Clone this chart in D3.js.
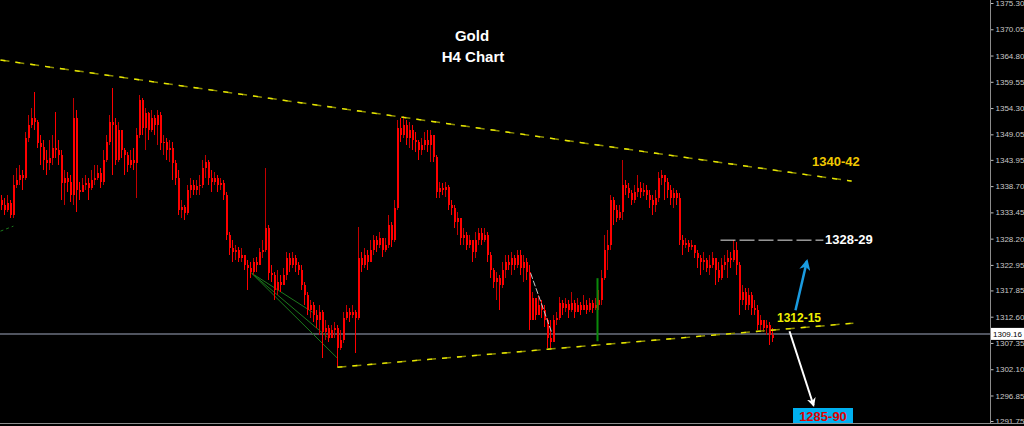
<!DOCTYPE html>
<html><head><meta charset="utf-8">
<script src="https://cdn.jsdelivr.net/npm/d3@7"></script>
<style>html,body{margin:0;padding:0;background:#000;overflow:hidden}</style>
</head><body><svg id="c" width="1024" height="426"></svg>
<script>
// ---- data (Gold, H4 candles) ----
const firstOpen = 1335.9;
const close = [
1334.9,1333.9,1335.3,1332.9,1338.9,1339.9,1340.9,1340.3,1348.3,1350.9,
1352.3,1351.5,1347.3,1346.5,1343.9,1343.3,1344.3,1346.3,1345.9,1344.9,
1339.3,1340.3,1339.5,1336.9,1352.3,1337.9,1337.5,1338.9,1339.3,1338.3,
1339.9,1340.3,1341.3,1339.5,1343.9,1347.5,1351.5,1350.9,1343.9,1349.9,
1345.9,1344.9,1342.9,1343.9,1343.3,1348.9,1355.9,1350.3,1353.3,1349.9,
1352.3,1350.9,1352.9,1347.3,1347.5,1345.9,1346.3,1343.3,1340.3,1333.9,
1334.5,1333.3,1337.9,1338.9,1337.9,1338.7,1338.9,1342.3,1343.5,1340.3,
1339.5,1340.3,1338.9,1339.3,1336.9,1328.9,1326.3,1325.5,1325.9,1324.3,
1324.9,1322.9,1322.3,1321.5,1323.5,1322.9,1325.5,1325.9,1330.3,1321.3,
1320.9,1317.9,1319.5,1318.9,1320.9,1324.3,1322.9,1324.3,1322.9,1321.9,
1318.9,1316.9,1313.9,1314.9,1312.9,1311.9,1313.5,1309.5,1310.3,1308.3,
1309.9,1310.3,1306.3,1307.9,1312.3,1313.5,1312.9,1313.5,1312.3,1324.3,
1322.9,1324.9,1323.5,1325.9,1327.9,1326.9,1328.3,1325.9,1326.9,1330.9,
1327.9,1334.3,1350.3,1348.9,1350.9,1348.3,1349.9,1347.9,1347.5,1345.9,
1346.9,1347.9,1346.9,1348.9,1344.5,1337.5,1338.3,1337.9,1338.5,1334.9,
1334.3,1331.5,1332.3,1328.3,1328.9,1326.9,1327.9,1325.5,1327.9,1329.3,
1327.9,1328.9,1324.9,1321.9,1319.5,1320.3,1318.9,1321.9,1323.5,1322.9,
1324.3,1322.9,1324.9,1322.3,1323.5,1321.5,1311.9,1316.3,1312.9,1314.9,
1313.9,1311.9,1308.3,1307.5,1311.9,1312.3,1315.3,1314.3,1315.1,1313.9,
1315.3,1313.5,1314.9,1313.9,1314.9,1313.9,1315.3,1314.3,1314.9,1315.9,
1320.3,1325.9,1326.9,1335.9,1333.9,1332.3,1333.5,1338.9,1338.3,1337.3,
1335.9,1337.5,1338.3,1337.5,1337.9,1336.9,1335.9,1334.9,1336.3,1340.3,
1340.9,1339.5,1337.9,1336.3,1337.3,1336.3,1327.9,1326.9,1327.3,1326.5,
1326.9,1325.3,1324.3,1323.5,1323.9,1322.3,1322.9,1324.3,1321.9,1320.3,
1322.9,1323.5,1324.3,1323.9,1325.9,1322.9,1315.9,1317.5,1314.9,1316.9,
1314.3,1313.9,1310.9,1311.9,1310.3,1310.9,1308.9,1308.3];
const high = [
1336.9,1336.3,1336.9,1335.9,1340.9,1342.3,1342.9,1341.9,1349.5,1352.9,
1354.3,1357.5,1351.9,1348.9,1347.9,1345.9,1347.9,1348.9,1353.5,1347.9,
1345.9,1341.9,1341.5,1340.9,1356.3,1353.9,1339.5,1340.3,1340.9,1340.3,
1341.9,1342.9,1342.9,1342.3,1345.9,1348.9,1352.9,1358.3,1352.3,1351.5,
1347.9,1346.3,1345.5,1345.9,1346.3,1350.3,1356.9,1356.3,1354.3,1353.5,
1353.9,1352.9,1353.9,1353.5,1348.9,1348.3,1347.9,1347.5,1343.9,1341.9,
1335.9,1334.9,1338.9,1340.3,1339.9,1339.9,1340.9,1343.9,1344.9,1343.9,
1341.9,1341.5,1340.9,1340.3,1339.9,1337.5,1329.5,1327.9,1326.9,1326.5,
1326.3,1324.9,1323.9,1323.5,1324.3,1324.5,1326.3,1327.9,1342.3,1330.9,
1322.9,1321.5,1321.9,1320.9,1322.3,1325.5,1325.3,1325.5,1324.9,1323.5,
1322.9,1319.5,1317.5,1315.9,1315.5,1313.9,1314.9,1313.9,1311.9,1310.9,
1310.9,1311.5,1310.9,1309.9,1313.5,1314.9,1314.3,1314.9,1313.9,1330.5,
1325.5,1326.3,1325.9,1327.9,1328.9,1328.7,1329.5,1328.3,1328.3,1332.9,
1331.5,1335.9,1351.9,1352.3,1352.7,1351.9,1351.5,1350.9,1349.5,1347.9,
1348.3,1349.5,1349.9,1349.9,1348.9,1344.9,1339.5,1339.3,1339.5,1338.9,
1335.9,1334.9,1333.5,1332.3,1330.3,1329.5,1328.9,1327.9,1329.5,1330.3,
1330.3,1330.3,1329.5,1325.5,1322.3,1321.5,1320.9,1323.5,1324.9,1324.9,
1325.5,1324.9,1325.9,1325.9,1324.9,1324.3,1322.9,1317.5,1316.3,1316.9,
1315.9,1314.9,1312.3,1311.9,1312.9,1313.5,1316.5,1315.9,1316.3,1315.9,
1317.5,1315.9,1316.3,1315.5,1316.9,1315.9,1316.3,1315.9,1316.3,1317.9,
1321.9,1328.9,1329.9,1336.9,1336.5,1334.9,1334.9,1343.9,1339.9,1339.3,
1337.9,1338.9,1340.9,1339.5,1339.3,1338.9,1337.9,1336.9,1337.9,1341.5,
1341.9,1340.9,1340.3,1338.9,1338.3,1337.9,1337.3,1328.9,1328.3,1327.9,
1327.9,1326.9,1325.9,1324.9,1325.5,1324.3,1324.9,1325.5,1324.3,1323.5,
1324.3,1324.9,1325.9,1325.5,1327.9,1327.5,1323.5,1318.9,1318.3,1318.3,
1317.5,1315.9,1314.9,1312.9,1311.9,1311.9,1311.5,1310.3];
const low = [
1333.9,1332.9,1333.5,1332.3,1332.3,1338.3,1338.9,1337.9,1339.9,1347.5,
1350.3,1349.9,1346.3,1342.9,1341.9,1340.9,1341.9,1342.9,1344.3,1342.9,
1335.9,1334.9,1337.5,1335.5,1334.9,1333.5,1335.9,1337.5,1337.9,1335.9,
1337.9,1338.9,1339.9,1338.3,1338.9,1343.5,1346.9,1340.9,1342.9,1343.5,
1344.3,1340.9,1341.5,1342.3,1341.9,1336.3,1348.3,1348.9,1345.9,1347.9,
1349.5,1348.9,1346.9,1345.9,1344.9,1343.9,1343.5,1339.9,1338.9,1332.9,
1332.3,1331.9,1332.9,1336.3,1336.9,1336.9,1336.9,1338.3,1340.3,1338.9,
1337.5,1338.9,1337.5,1337.9,1335.9,1327.9,1324.9,1323.5,1323.9,1323.5,
1323.5,1321.9,1317.9,1320.3,1320.9,1321.5,1322.9,1324.3,1325.5,1319.9,
1319.5,1315.9,1316.9,1317.5,1318.9,1319.9,1321.5,1322.3,1321.5,1320.9,
1317.9,1314.9,1312.9,1312.3,1311.5,1310.3,1308.9,1304.3,1307.9,1307.5,
1308.9,1308.3,1302.5,1305.9,1307.3,1311.9,1311.5,1312.3,1305.3,1311.9,
1321.5,1322.3,1321.9,1323.5,1324.9,1325.5,1326.3,1324.5,1325.5,1326.3,
1326.5,1327.5,1333.9,1347.5,1348.3,1346.9,1346.3,1345.9,1345.5,1343.9,
1344.9,1345.9,1345.5,1343.5,1343.5,1336.3,1336.3,1336.9,1336.5,1333.9,
1332.9,1330.3,1328.9,1326.9,1326.9,1325.9,1326.3,1323.5,1324.3,1326.9,
1326.9,1327.5,1323.5,1320.3,1318.3,1315.9,1313.9,1318.3,1320.3,1321.9,
1320.9,1321.9,1322.3,1320.9,1319.5,1319.9,1309.9,1312.9,1311.9,1312.9,
1312.3,1310.5,1306.3,1306.3,1308.9,1310.9,1311.9,1312.9,1313.5,1312.3,
1313.5,1312.3,1313.5,1312.9,1313.9,1313.1,1313.5,1313.3,1313.9,1313.9,
1314.9,1319.9,1321.9,1325.9,1330.9,1331.5,1331.9,1331.9,1336.9,1336.3,
1334.9,1335.3,1336.5,1336.3,1336.7,1335.9,1334.3,1332.9,1333.5,1335.5,
1338.9,1335.9,1336.3,1334.9,1334.3,1334.9,1326.9,1324.9,1326.3,1325.5,
1325.9,1324.3,1322.3,1320.9,1321.9,1321.5,1320.9,1322.3,1318.9,1319.5,
1319.9,1321.9,1320.3,1322.3,1323.5,1320.9,1312.9,1314.9,1313.9,1313.9,
1312.9,1312.9,1309.9,1309.9,1309.5,1308.9,1306.9,1307.5];

const yTicks = [1375.30,1370.05,1364.80,1359.55,1354.30,1349.05,1343.95,1338.70,
  1333.45,1328.20,1322.95,1317.85,1312.60,1307.35,1302.10,1296.85,1291.75];
const lastPrice = 1309.16;

// drawn objects: [candle index, price]
const upperTrend = [[-0.5,1363.9],[283.2,1339.7]];
const lowerTrend = [[111.8,1302.5],[283.8,1311.3]];
const resistLine = [[239.5,1327.9],[273.8,1327.9]];
const fanOrigin = [83.2,1321.3];
const fanEnds = [[103.5,1313.5],[108.5,1308.5],[111.8,1304.3]];
const leftStub = [[-0.5,1329.7],[3.8,1330.7]];
const greyDiag = [[176.2,1321.3],[183.2,1309.5]];
const greenBar = [[198.5,1320.3],[198.5,1307.7]];
const blueArrow = [[264.5,1313.9],[268.3,1323.7]];
const whiteArrow = [[262.5,1309.7],[270.5,1294.9]];
const labels = {up:"1340-42", res:"1328-29", sup:"1312-15", tgt:"1285-90"};

// ---- drawing ----
const svg = d3.select("#c");
svg.append("rect").attr("width",1024).attr("height",426).attr("fill","#000");

const n = close.length;
const x = d3.scaleLinear().domain([0, n-1]).range([2, 2 + 3*(n-1)]);
const y = d3.scaleLinear().domain([1291.75, 1375.30]).range([421, 3]);

const defs = svg.append("defs");
function marker(id, col){
  defs.append("marker").attr("id",id).attr("viewBox","0 0 10 10")
    .attr("refX",8).attr("refY",5).attr("markerWidth",4.5).attr("markerHeight",4.5)
    .attr("orient","auto").append("path").attr("d","M0,0 L10,5 L0,10 L3,5 Z").attr("fill",col);
}
marker("mb","#1a9be0"); marker("mw","#ffffff");

const line = d3.line().x(d=>x(d[0])).y(d=>y(d[1]));

// current price line
svg.append("line").attr("x1",0).attr("x2",990).attr("y1",y(lastPrice)).attr("y2",y(lastPrice))
  .attr("stroke","#50545f").attr("stroke-width",2);

// green fan
const g = svg.append("g");
fanEnds.forEach(e=>{
  g.append("path").attr("d",line([fanOrigin,e])).attr("stroke","#1c7a1c").attr("stroke-width",1).attr("fill","none");
});
g.append("path").attr("d",line(leftStub)).attr("stroke","#1c7a1c").attr("stroke-dasharray","3,3").attr("fill","none");

// candles
const opens = close.map((c,i)=> i===0 ? firstOpen : close[i-1]);
const cg = svg.append("g").attr("shape-rendering","crispEdges");
close.forEach((c,i)=>{
  const o = opens[i];
  const hi = Math.max(high[i], o, c), lo = Math.min(low[i], o, c);
  const cx = x(i);
  const bull = c > o;
  cg.append("rect").attr("x",cx-1).attr("width",1).attr("y",y(hi)).attr("height",y(lo)-y(hi))
    .attr("fill", bull ? "#c40000" : "#ff0000");
  const top = y(Math.max(o,c)), bot = y(Math.min(o,c));
  cg.append("rect").attr("x",cx-1).attr("width",2).attr("y",top).attr("height",Math.max(1,bot-top))
    .attr("fill", "#ff0000");
});

// grey diagonal & green bar
svg.append("path").attr("d",line(greyDiag)).attr("stroke","#c8c8c8").attr("stroke-width",1)
  .attr("stroke-dasharray","6,2").attr("fill","none");
svg.append("path").attr("d",line(greenBar)).attr("stroke","#0a8a0a").attr("stroke-width",2).attr("fill","none");

// trendlines
[upperTrend, lowerTrend].forEach(t=>{
  svg.append("path").attr("d",line(t)).attr("stroke","#8a8a00").attr("stroke-width",1.5).attr("fill","none")
    .attr("stroke-dasharray","9,6");
  svg.append("path").attr("d",line(t)).attr("stroke","#e8e800").attr("stroke-width",1.3).attr("fill","none")
    .attr("stroke-dasharray","5,10");
});
svg.append("path").attr("d",line(resistLine)).attr("stroke","#e6e6e6").attr("stroke-width",1)
  .attr("stroke-dasharray","15,4").attr("fill","none");

// arrows
svg.append("path").attr("d",line(blueArrow)).attr("stroke","#1a9be0").attr("stroke-width",2.5)
  .attr("fill","none").attr("marker-end","url(#mb)");
svg.append("path").attr("d",line(whiteArrow)).attr("stroke","#ffffff").attr("stroke-width",2)
  .attr("fill","none").attr("marker-end","url(#mw)");

// text labels
const F = "'Liberation Sans', Arial, sans-serif";
function txt(t,xx,yy,col,size,anchor){
  return svg.append("text").text(t).attr("x",xx).attr("y",yy).attr("fill",col)
    .attr("font-family",F).attr("font-weight","bold").attr("font-size",size)
    .attr("text-anchor",anchor||"start");
}
txt("Gold",472,41,"#ffffff",15,"middle");
txt("H4 Chart",473,62,"#ffffff",15,"middle");
txt(labels.up,812,166,"#f0c800",13);
txt(labels.res,825,244,"#ffffff",13);
txt(labels.sup,777,322,"#f0f000",12);
svg.append("rect").attr("x",793).attr("y",408).attr("width",60).attr("height",16).attr("fill","#00b0f0");
txt(labels.tgt,823,421,"#e00000",13,"middle");

// right axis
const ax = svg.append("g").attr("transform","translate(990.5,0)")
  .call(d3.axisRight(y).tickValues(yTicks).tickSize(3).tickSizeOuter(0).tickPadding(2)
    .tickFormat(d3.format(".2f")));
ax.select(".domain").remove();
ax.selectAll(".tick line").attr("stroke","#bdbdbd");
ax.selectAll(".tick text").attr("fill","#c8c8c8").attr("font-family",F).attr("font-size",8);
svg.append("line").attr("x1",990.5).attr("x2",990.5).attr("y1",0).attr("y2",424)
  .attr("stroke","#8c8c8c").attr("stroke-width",1);
svg.append("line").attr("x1",0).attr("x2",1024).attr("y1",423.5).attr("y2",423.5)
  .attr("stroke","#8c8c8c").attr("stroke-width",1);

// current price box
const py = y(lastPrice);
svg.append("rect").attr("x",991).attr("y",py-6).attr("width",33).attr("height",12).attr("fill","#ffffff");
svg.append("text").text(d3.format(".2f")(lastPrice)).attr("x",993).attr("y",py+3)
  .attr("fill","#000").attr("font-family",F).attr("font-size",8);
</script></body></html>
